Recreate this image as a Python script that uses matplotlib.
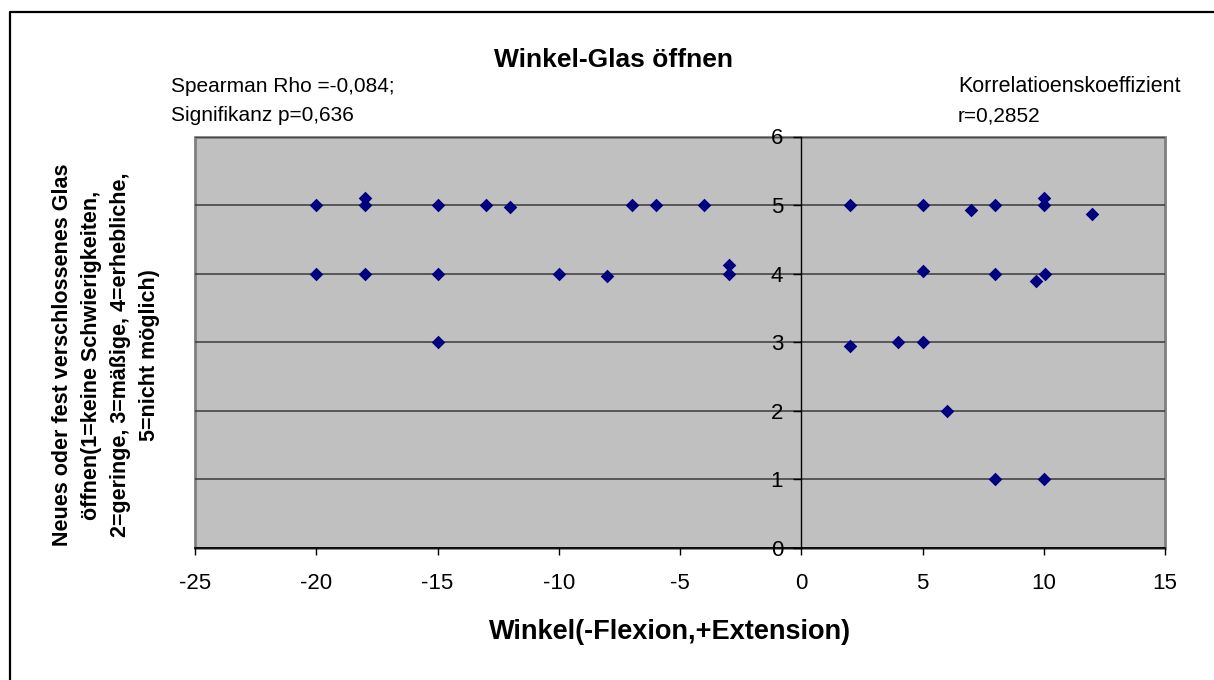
import numpy as np
import matplotlib
matplotlib.use("Agg")
import matplotlib.pyplot as plt
from matplotlib.lines import Line2D

plt.rcParams['font.family'] = ['Liberation Sans', 'DejaVu Sans']
plt.rcParams['axes.unicode_minus'] = False

# Winkel (-Flexion, +Extension) and rating for opening a new / tightly closed glass
winkel = [-20, -18, -18, -15, -13, -12, -7, -6, -4,
          -20, -18, -15, -10, -8, -3, -3,
          -15,
          2, 5, 7, 8, 10, 10, 12,
          5, 8, 10.05, 9.7,
          2, 4, 5,
          6,
          8, 10]
glas = [5, 5.1, 5.0, 5, 5, 4.97, 5, 5, 5,
        4, 4, 4, 4, 3.97, 4.12, 4.0,
        3,
        5, 5, 4.93, 5, 5.1, 5.0, 4.87,
        4.04, 4, 4, 3.89,
        2.94, 3, 3,
        2,
        1, 1]

x_ticks = [-25, -20, -15, -10, -5, 0, 5, 10, 15]
y_ticks = [0, 1, 2, 3, 4, 5, 6]

title = "Winkel-Glas öffnen"
x_label = "Winkel(-Flexion,+Extension)"
y_label = ("Neues oder fest verschlossenes Glas\n"
           "öffnen(1=keine Schwierigkeiten,\n"
           "2=geringe, 3=mäßige, 4=erhebliche,\n"
           "5=nicht möglich)")
note_left = ["Spearman Rho =-0,084;", "Signifikanz p=0,636"]
note_right = ["Korrelatioenskoeffizient", "r=0,2852"]

W, H = 1214, 680
fig = plt.figure(figsize=(W / 100, H / 100), dpi=100)
ax = fig.add_axes([195 / W, 1 - 548 / H, (1165 - 195) / W, (548 - 136.5) / H])

ax.set_facecolor('#C0C0C0')
ax.patch.set_edgecolor('#808080')
ax.patch.set_linewidth(2.0)
ax.set_axisbelow(True)

ax.scatter(winkel, glas, marker='D', s=48, color='#000080', linewidths=0, zorder=3)

ax.set_xlim(-25, 15)
ax.set_ylim(0, 6)
ax.set_xticks(x_ticks)
ax.set_yticks(y_ticks)
ax.yaxis.grid(True, color='#3a3a3a', linewidth=1.1)

# y axis crosses at x=0 like in Excel
ax.spines['left'].set_position(('data', 0))
ax.spines['left'].set_color('black')
ax.spines['left'].set_linewidth(1.0)
ax.spines['bottom'].set_color('black')
ax.spines['bottom'].set_linewidth(1.2)
ax.spines['top'].set_visible(False)
ax.spines['right'].set_visible(False)

ax.tick_params(axis='y', direction='out', length=6, width=1, pad=7, labelsize=16)
ax.tick_params(axis='x', direction='out', length=5, width=1, pad=13, labelsize=16)

# texts placed in figure pixels
fig.text(613.5 / W, 1 - 67 / H, title, ha='center', va='baseline',
         fontsize=19, fontweight='bold')
fig.text(171 / W, 1 - 92 / H, note_left[0], ha='left', va='baseline', fontsize=15)
fig.text(171 / W, 1 - 121 / H, note_left[1], ha='left', va='baseline', fontsize=15)
fig.text(958 / W, 1 - 92 / H, note_right[0], ha='left', va='baseline', fontsize=15.5)
fig.text(958 / W, 1 - 121 / H, note_right[1], ha='left', va='baseline', fontsize=15)
fig.text(670 / W, 1 - 639 / H, x_label, ha='center', va='baseline',
         fontsize=19.5, fontweight='bold')
fig.text(106 / W, 1 - 355 / H, y_label, ha='center', va='center', rotation=90,
         multialignment='center', fontsize=15.5, fontweight='bold', linespacing=1.52)

# outer chart border (only top and left visible in the crop)
bx, by = 9.5 / W, 1 - 12 / H
fig.add_artist(Line2D([bx, bx, 1.0], [0.0, by, by], transform=fig.transFigure,
                      color='black', linewidth=1.6))

fig.savefig("out.png", dpi=100)
